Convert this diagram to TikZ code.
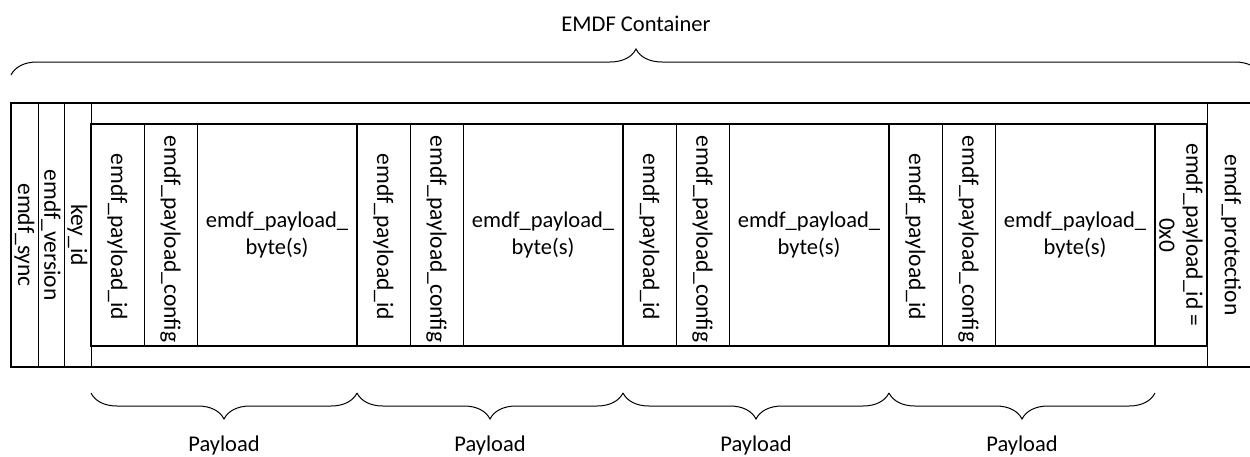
\documentclass[tikz,border=0pt]{standalone}
\usepackage{fontspec}
\setmainfont{Carlito}
\usetikzlibrary{decorations.pathreplacing}

\tikzset{
  thickline/.style={line width=2.6pt},
  thinline/.style={line width=1pt},
  field/.style={rotate=-90,inner sep=0pt,align=center,font=\fontsize{23.5}{27}\selectfont},
  grouptext/.style={inner sep=0pt,align=center,font=\fontsize{22.5}{27}\selectfont},
  curly/.style={decorate,decoration={brace,amplitude=26pt},line width=1pt}
}

\begin{document}
\begin{tikzpicture}[x=1pt,y=-1pt]
\useasboundingbox (0,0) rectangle (1250,456);
% container
\draw[curly] (11,75) -- (1261,75);
\node[grouptext,anchor=base] (container) at (636,31) {EMDF Container};
\draw[thickline] (1262,103) -- (11,103) -- (11,367) -- (1262,367);
\foreach \x in {38,64,91,1207} \draw[thinline] (\x,103) -- (\x,367);
\node[field] (sync) at (24.5,235) {emdf\_sync};
\node[field] (version) at (51,235) {emdf\_version};
\node[field] (keyid) at (77.5,235) {key\_id};
% payloads
\draw[thickline] (91,124) rectangle (1207,346);
\foreach \i in {0,...,3} {
  \pgfmathsetmacro\s{91+266*\i}
  \draw[thickline] (\s+266,124) -- (\s+266,346);
  \draw[thinline] (\s+53,124) -- (\s+53,346);
  \draw[thinline] (\s+106,124) -- (\s+106,346);
  \node[field] (pid\i) at (\s+26.5,237) {emdf\_payload\_id};
  \node[field] (pconfig\i) at (\s+79.5,239) {emdf\_payload\_config};
  \node[grouptext] (pbytes\i) at (\s+186,235) {emdf\_payload\_\\byte(s)};
  \draw[curly] (\s+266,393) -- (\s,393);
  \node[grouptext,anchor=base] (payload\i) at (\s+133,451) {Payload};
}
\node[field] (endid) at (1181,235) {emdf\_payload\_id =\\0x0};
\node[field] (protection) at (1231,235) {emdf\_protection};
\end{tikzpicture}
\end{document}
